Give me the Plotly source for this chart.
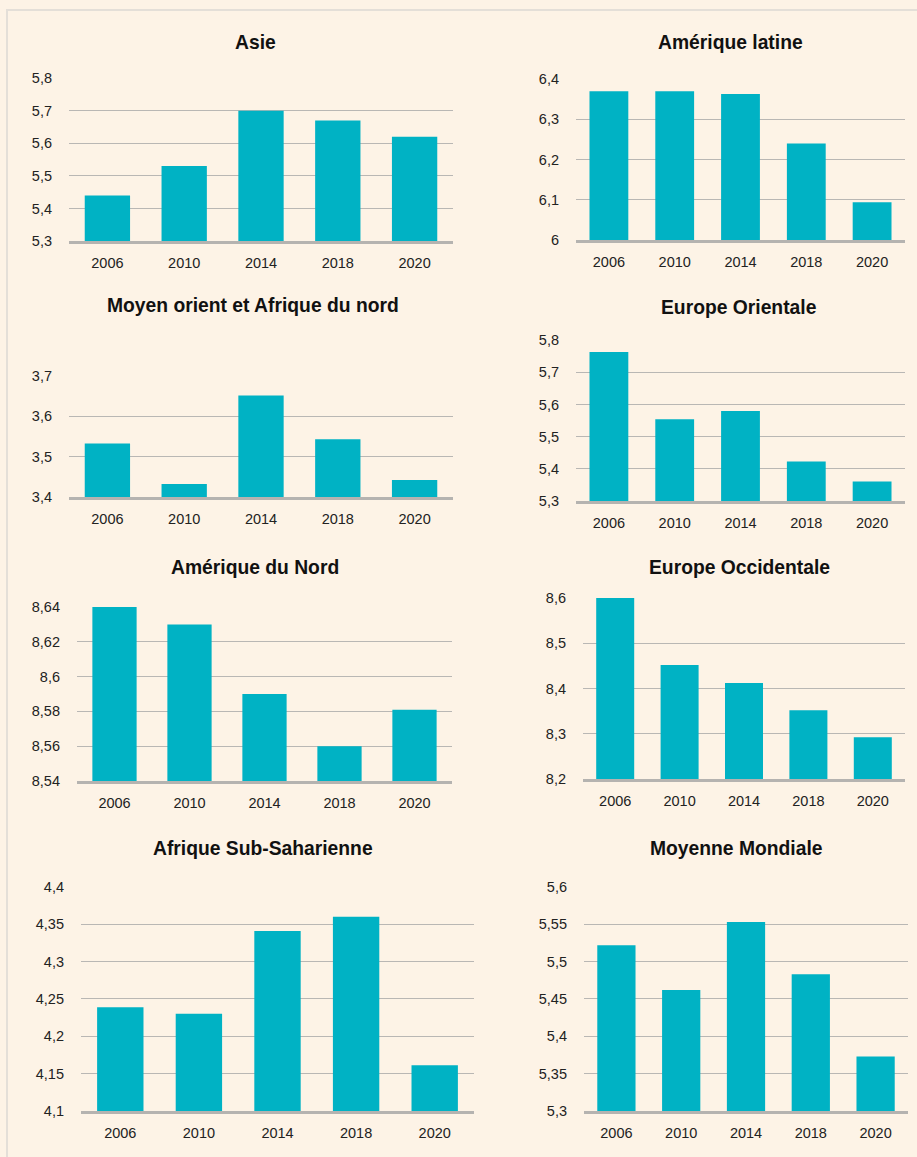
import plotly.graph_objects as go

years = ["2006", "2010", "2014", "2018", "2020"]

titles = ["Asie", "Amérique latine", "Moyen orient et Afrique du nord", "Europe Orientale",
          "Amérique du Nord", "Europe Occidentale", "Afrique Sub-Saharienne", "Moyenne Mondiale"]

asie = [5.44, 5.53, 5.70, 5.67, 5.62]
amerique_latine = [6.37, 6.37, 6.363, 6.24, 6.094]
moyen_orient = [3.533, 3.432, 3.652, 3.543, 3.442]
europe_orientale = [5.763, 5.554, 5.58, 5.423, 5.361]
amerique_nord = [8.641, 8.630, 8.590, 8.560, 8.581]
europe_occidentale = [8.602, 8.452, 8.412, 8.352, 8.292]
afrique_sub = [4.239, 4.230, 4.341, 4.360, 4.161]
moyenne_mondiale = [5.522, 5.462, 5.553, 5.483, 5.373]

series = [asie, amerique_latine, moyen_orient, europe_orientale,
          amerique_nord, europe_occidentale, afrique_sub, moyenne_mondiale]

y_ranges = [(5.3, 5.8), (6.0, 6.4), (3.4, 3.7), (5.3, 5.8),
            (8.54, 8.64), (8.2, 8.6), (4.1, 4.4), (5.3, 5.6)]
y_dticks = [0.1, 0.1, 0.1, 0.1, 0.02, 0.1, 0.05, 0.05]

W, H = 917, 1157
# vertical calibration of the page capture (measured from previous renders)
SY, OY = 1157 / 1173, 8

# panel boxes in target pixels: x0, x1, ytop, ybottom
boxes = [(69, 453, 78, 241), (576, 905, 79, 240),
         (69, 453, 376, 497), (576, 905, 340, 501),
         (77, 452, 607, 781), (583, 905, 598, 779),
         (81, 474, 887, 1111), (584, 908, 887, 1111)]
title_pos = [(255, 42), (730, 42), (253, 305), (739, 307),
             (255, 567), (739, 567), (263, 849), (736, 849)]


def px(x):
    return x / W


def py(y):
    return 1 - (y / SY - OY) / H


BAR = "#00B2C4"
BG = "#FDF3E6"
GRID = "#B9B7B4"
FONT = "Liberation Sans, Arial, Helvetica, sans-serif"

fig = go.Figure()
layout = dict(width=W, height=H, margin=dict(l=0, r=0, t=0, b=0),
              paper_bgcolor=BG, plot_bgcolor=BG, showlegend=False,
              separators=", ", font=dict(family=FONT, size=14.5, color="#222222"),
              bargap=0.41)
annotations = []
for i, (vals, title, yr, dt, box, tp) in enumerate(zip(series, titles, y_ranges, y_dticks, boxes, title_pos)):
    n = "" if i == 0 else str(i + 1)
    fig.add_trace(go.Bar(x=years, y=[v - yr[0] for v in vals], base=yr[0],
                         customdata=vals, marker_color=BAR, marker_line_width=0,
                         xaxis="x" + n, yaxis="y" + n,
                         hovertemplate="%{x}: %{customdata}<extra></extra>"))
    x0, x1, yt, yb = box
    layout["xaxis" + n] = dict(domain=[px(x0), px(x1)], anchor="y" + n,
                               showgrid=False, showline=True, linecolor="#B5B3B0",
                               linewidth=3, ticks="", ticklabelstandoff=7,
                               tickfont=dict(size=14.5, color="#222222"), fixedrange=True)
    layout["yaxis" + n] = dict(domain=[py(yb), py(yt)], anchor="x" + n,
                               range=[yr[0], yr[1] + 1e-6], dtick=dt, tick0=yr[0],
                               showgrid=True, gridcolor=GRID, gridwidth=1,
                               showline=False, zeroline=False, ticks="",
                               ticklabelstandoff=16,
                               tickfont=dict(size=14.5, color="#222222"), fixedrange=True)
    annotations.append(dict(text="<b>" + title + "</b>", x=px(tp[0]), y=py(tp[1]),
                            xref="paper", yref="paper", showarrow=False,
                            xanchor="center", yanchor="middle",
                            font=dict(family=FONT, size=19.3, color="#111111")))

layout["annotations"] = annotations
layout["shapes"] = [dict(type="rect", xref="paper", yref="paper",
                         x0=px(7), x1=1.05, y0=-0.05, y1=py(10),
                         line=dict(color="#E4DFD8", width=2), layer="below")]
fig.update_layout(**layout)
fig.write_html("out.html", config={"displayModeBar": False},
               post_script="document.body.style.margin='0';document.body.style.background='%s';"
                           "document.documentElement.style.background='%s';" % (BG, BG))
